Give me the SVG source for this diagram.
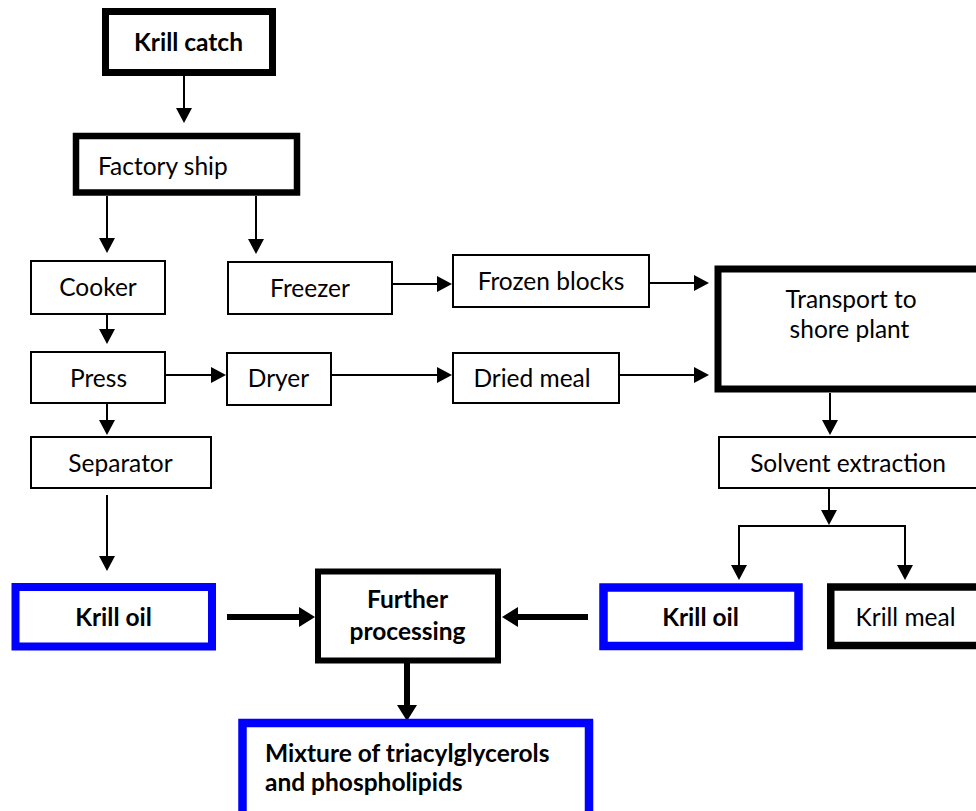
<svg xmlns="http://www.w3.org/2000/svg" width="976" height="811" viewBox="0 0 976 811">
<style>
  .bx { fill: #ffffff; stroke: #000000; }
  .thin { stroke-width: 2; }
  .blue { stroke: #0000ff; }
  .t { font-family: Lato, "Open Sans", "Liberation Sans", sans-serif; font-size: 24.5px; fill: #000000; text-anchor: middle; }
  .b { font-weight: bold; }
  .st { text-anchor: start; }
  .ln { fill: none; stroke: #000000; stroke-width: 2; }
  .lnk { fill: none; stroke: #000000; stroke-width: 6; }
</style>
<defs>
  <marker id="ah" markerUnits="userSpaceOnUse" markerWidth="16" markerHeight="16" refX="5" refY="8" orient="auto">
    <path d="M0,0 L15,8 L0,16 Z" fill="#000000"/>
  </marker>
  <marker id="ahk" markerUnits="userSpaceOnUse" markerWidth="17" markerHeight="20" refX="6" refY="10" orient="auto">
    <path d="M0,0 L16,10 L0,20 Z" fill="#000000"/>
  </marker>
</defs>

<g id="connectors">
  <path class="ln" d="M184,76 V113" marker-end="url(#ah)"/>
  <path class="ln" d="M107,196 V243" marker-end="url(#ah)"/>
  <path class="ln" d="M256,196 V244" marker-end="url(#ah)"/>
  <path class="ln" d="M107,314 V334" marker-end="url(#ah)"/>
  <path class="ln" d="M107,404 V425" marker-end="url(#ah)"/>
  <path class="ln" d="M166,375 H216" marker-end="url(#ah)"/>
  <path class="ln" d="M393,284 H442" marker-end="url(#ah)"/>
  <path class="ln" d="M332,375 H442" marker-end="url(#ah)"/>
  <path class="ln" d="M650,283 H699" marker-end="url(#ah)"/>
  <path class="ln" d="M619,375 H699" marker-end="url(#ah)"/>
  <path class="ln" d="M830,393 V425" marker-end="url(#ah)"/>
  <path class="ln" d="M107,495 V561" marker-end="url(#ah)"/>
  <path class="ln" d="M829,489 V515" marker-end="url(#ah)"/>
  <path class="ln" d="M739,526 H905"/>
  <path class="ln" d="M739,525 V570" marker-end="url(#ah)"/>
  <path class="ln" d="M905,525 V570" marker-end="url(#ah)"/>
  <path class="lnk" d="M227,617 H305" marker-end="url(#ahk)"/>
  <path class="lnk" d="M588,617 H512" marker-end="url(#ahk)"/>
  <path class="lnk" d="M407,663 V711" stroke-width="5" marker-end="url(#ahk)"/>
</g>

<g id="krill-catch">
  <rect class="bx" x="105.5" y="11.5" width="167" height="61" stroke-width="7"/>
  <text class="t b" x="188.5" y="51">Krill catch</text>
</g>
<g id="factory-ship">
  <rect class="bx" x="76" y="136" width="221" height="56.5" stroke-width="6.5"/>
  <text class="t st" x="98" y="175">Factory ship</text>
</g>
<g id="cooker">
  <rect class="bx thin" x="31" y="261" width="134" height="53"/>
  <text class="t" x="98" y="296">Cooker</text>
</g>
<g id="freezer">
  <rect class="bx thin" x="228" y="262" width="164" height="52"/>
  <text class="t" x="310" y="297">Freezer</text>
</g>
<g id="press">
  <rect class="bx thin" x="31" y="352" width="134" height="51"/>
  <text class="t" x="98.5" y="387">Press</text>
</g>
<g id="dryer">
  <rect class="bx thin" x="227" y="353" width="104" height="52"/>
  <text class="t" x="278.5" y="387">Dryer</text>
</g>
<g id="separator">
  <rect class="bx thin" x="31" y="437" width="180" height="51"/>
  <text class="t" x="120.5" y="472">Separator</text>
</g>
<g id="frozen-blocks">
  <rect class="bx thin" x="453" y="255" width="196" height="52"/>
  <text class="t" x="551" y="290">Frozen blocks</text>
</g>
<g id="dried-meal">
  <rect class="bx thin" x="453" y="353" width="166" height="50"/>
  <text class="t" x="532" y="387">Dried meal</text>
</g>
<g id="transport">
  <rect class="bx" x="718" y="269" width="270" height="120" stroke-width="7"/>
  <text class="t" x="851" y="308">Transport to</text>
  <text class="t" x="849.5" y="338">shore plant</text>
</g>
<g id="solvent-extraction">
  <rect class="bx thin" x="719" y="437" width="270" height="51"/>
  <text class="t" x="848" y="472">Solvent extraction</text>
</g>
<g id="krill-oil-left">
  <rect class="bx blue" x="15.5" y="587" width="196.5" height="59.5" stroke-width="8"/>
  <text class="t b" x="113.5" y="626">Krill oil</text>
</g>
<g id="further-processing">
  <rect class="bx" x="318" y="571.5" width="180" height="89" stroke-width="6"/>
  <text class="t b" x="407.5" y="608">Further</text>
  <text class="t b" x="407.5" y="640">processing</text>
</g>
<g id="krill-oil-right">
  <rect class="bx blue" x="603.5" y="587.5" width="195" height="58.5" stroke-width="8.5"/>
  <text class="t b" x="700.5" y="626">Krill oil</text>
</g>
<g id="krill-meal">
  <rect class="bx" x="830.75" y="587" width="160" height="58.5" stroke-width="7.5"/>
  <text class="t" x="905.5" y="626">Krill meal</text>
</g>
<g id="mixture">
  <rect class="bx blue" x="242.5" y="723" width="346.5" height="95" stroke-width="8.5"/>
  <text class="t b st" x="265" y="762">Mixture of triacylglycerols</text>
  <text class="t b st" x="265" y="791">and phospholipids</text>
</g>
</svg>
